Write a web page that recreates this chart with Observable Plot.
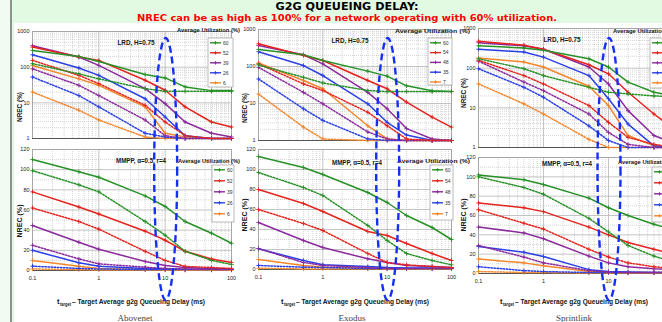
<!DOCTYPE html>
<html><head><meta charset="utf-8">
<script src="https://cdn.jsdelivr.net/npm/d3@7"></script>
<script src="https://cdn.jsdelivr.net/npm/@observablehq/plot@0.6"></script>
<style>
html,body{margin:0;padding:0;width:662px;height:322px;overflow:hidden;background:#e2fae2;}
#stage{position:relative;width:662px;height:322px;overflow:hidden;}
</style></head>
<body><div id="stage"></div>
<script>
// ---------------- DATA ----------------
const delayMs = [0.1, 0.5, 1, 5, 10, 20, 50, 100];
const xTickLabels = [0.1, 1, 10, 100];
const lrdTickLabels = [1, 10, 100, 1000];
const mmppTickLabels = [0, 20, 40, 60, 80, 100, 120];
const networks = ["Abovenet", "Exodus", "Sprintlink"];
const utilAbovenet = ["60", "52", "39", "26", "6"];
const utilExodus = ["60", "54", "48", "35", "7"];
const utilSprintlink = ["60", "54", "48", "35", "7"];
const lineColors = ["#279127", "#e5231d", "#8a2a9c", "#2a3fe6", "#f3862b"];

// rows: green, red, purple, blue, orange ; columns follow delayMs
const abovenetLrdSolid = [
  [295, 200, 145, 62, 50, 28, 22, 22],
  [366, 192, 155, 43, 22.5, 7.7, 2.9, 2.1],
  [400, 192, 112, 25, 9.5, 2.9, 1.4, 1.1],
  [222, 95, 59, 13, 4, 1.2, 1, 1],
  [112, 47, 31, 7.7, 1.4, 1.1, 1, 1]];
const abovenetLrdDotted = [
  [125, 65, 47, 25, 21, 21, 21, 21],
  [155, 59, 34.5, 8.5, 2.9, 1.2, 1, 1],
  [90, 31, 16, 3.3, 1.2, 1, 1, 1],
  [53, 16, 7.7, 1.4, 1.1, 1, 1, 1],
  [20, 6.2, 3.3, 1.1, 1, 1, 1, 1]];
const abovenetMmppSolid = [
  [110, 98, 92.5, 74, 63.5, 48.6, 37, 27],
  [78, 63, 56, 39, 30, 19, 11.5, 8],
  [44.6, 28, 21, 9, 5, 3, 2, 1.5],
  [20, 7.6, 4.3, 2, 1.5, 1, 1, 1],
  [10, 4.3, 2, 1, 0.7, 0.5, 0.5, 0.5]];
const abovenetMmppDotted = [
  [99, 85, 78, 48.6, 35, 19, 10, 6],
  [62, 48.6, 41, 19, 10, 4, 3, 2],
  [25, 11.5, 6.6, 3.3, 2, 1.5, 1, 1],
  [4.3, 2, 1.5, 1, 1, 1, 1, 1],
  [1.5, 0.8, 0.5, 0.5, 0.3, 0.3, 0.3, 0.3]];

const exodusLrdSolid = [
  [290, 207, 145, 75, 55, 30, 22, 21],
  [410, 198, 145, 42, 25, 10.9, 4.3, 2.3],
  [370, 207, 118, 20, 7.2, 2.1, 1.1, 1],
  [250, 106, 57, 9.8, 3.1, 1.4, 1, 1],
  [125, 42, 25, 2.5, 1.1, 1, 1, 1]];
const exodusLrdDotted = [
  [110, 51, 36, 22.5, 21, 21, 21, 21],
  [118, 34, 22.5, 5.8, 2.5, 1.1, 1, 1],
  [95, 20, 9.8, 1.7, 1.1, 1, 1, 1],
  [46, 7.2, 3.5, 1.1, 1, 1, 1, 1],
  [18, 2.3, 1.1, 1, 1, 1, 1, 1]];
const exodusMmppSolid = [
  [113, 102, 95, 77, 67, 54, 42, 30],
  [80, 66, 58, 38, 34, 26, 16, 9],
  [47, 29, 22, 10.7, 7, 4, 3, 2],
  [20.7, 9, 4.7, 3, 2, 1.5, 1.5, 1.5],
  [10, 4, 2.3, 1.5, 1, 1, 1, 1]];
const exodusMmppDotted = [
  [97, 82, 74, 44, 29, 16, 9, 4.7],
  [60, 46, 39, 16, 7, 4.7, 3, 2],
  [21, 7, 4, 2, 1, 1, 1, 1],
  [4, 2.3, 2, 1, 1, 1, 1, 1],
  [1.3, 0.5, 0.5, 0.5, 0.5, 0.5, 0.5, 0.5]];

const sprintlinkLrdSolid = [
  [365, 324, 283, 173, 107, 44.5, 24.7, 20],
  [479, 380, 300, 122, 72, 24.7, 7, 3],
  [440, 365, 300, 107, 40, 8.5, 2, 1.3],
  [300, 256, 190, 65, 17, 3.9, 1.1, 1],
  [180, 143, 107, 35, 11.4, 2, 1.1, 1]];
const sprintlinkLrdDotted = [
  [173, 97, 65, 33, 24.7, 22.5, 20, 19],
  [158, 65, 40, 11.4, 4.3, 1.8, 1.2, 1],
  [150, 44.5, 27, 7, 2.4, 1.2, 1, 1],
  [97, 33, 18.5, 3.5, 1.5, 1, 1, 1],
  [40, 12.6, 7, 1.6, 1, 1, 1, 1]];
const sprintlinkMmppSolid = [
  [102, 97, 92, 78, 68, 60, 51, 45],
  [73, 68, 64, 48, 40, 32, 25, 20],
  [48, 42, 36, 18, 11, 7, 5, 4],
  [28, 22, 17.5, 4, 2, 1.5, 1, 1],
  [15, 11, 8, 2, 1, 1, 1, 1]];
const sprintlinkMmppDotted = [
  [100, 89, 82, 57, 43, 29, 18, 12],
  [66, 52, 46, 25, 17, 11, 7, 5],
  [29, 17, 11, 3, 1.5, 1, 1, 1],
  [7, 3, 2, 1, 1, 1, 1, 1],
  [2, 1, 1, 0.5, 0.5, 0.5, 0.5, 0.5]];

const lrdTitle = "LRD, H=0.75";
const mmppTitle = "MMPP, \u03b1=0.5, r=4";
const legendTitle = "Average Utilization (%)";
const yLabel = "NREC (%)";
const xLabelRest = " \u2013 Target Average g2g Queueing Delay (ms)";

// ---------------- LAYOUT ----------------
const W = 662, H = 322;
const NARROW = "'Liberation Sans Narrow','Liberation Sans',Arial,sans-serif";
const columns = [
  {name: networks[0], util: utilAbovenet, lrd: [abovenetLrdSolid, abovenetLrdDotted], mmpp: [abovenetMmppSolid, abovenetMmppDotted],
   top: [32, 231, 31, 138], bot: [32, 231, 149, 270],
   yl: [20, 107, 221], lt: [136, 45], mt: [141, 163],
   legT: [177, 32, 63], legB: [178, 163, 62],
   boxT: [208, 38, 25, 49, 10], boxB: [212, 165, 22, 57, 11], xt: 57, cap: 135},
  {name: networks[1], util: utilExodus, lrd: [exodusLrdSolid, exodusLrdDotted], mmpp: [exodusMmppSolid, exodusMmppDotted],
   top: [258, 451, 29, 140], bot: [258, 451, 149, 269],
   yl: [245, 108, 215], lt: [350, 43], mt: [357, 165],
   legT: [395, 33, 75], legB: [397, 163, 73],
   boxT: [428, 38, 24, 47, 9.8], boxB: [430, 165, 23, 55, 11], xt: 281, cap: 352},
  {name: networks[2], util: utilSprintlink, lrd: [sprintlinkLrdSolid, sprintlinkLrdDotted], mmpp: [sprintlinkMmppSolid, sprintlinkMmppDotted],
   top: [478, 673, 28, 147], bot: [478, 673, 157, 273],
   yl: [464, 93, 215], lt: [562, 42], mt: [567, 166],
   legT: [613, 33, 63], legB: [618, 164, 63],
   boxT: [650, 38, 25, 50, 10], boxB: [652, 167, 25, 55, 11], xt: 500, cap: 574},
];

const stageEl = document.getElementById("stage");

// background
const bg = d3.create("svg").attr("width", W).attr("height", H)
  .style("position", "absolute").style("left", "0px").style("top", "0px");
bg.append("rect").attr("width", W).attr("height", H).attr("fill", "#e2fae2");
bg.append("rect").attr("width", 10).attr("height", H).attr("fill", "#f1fbf1");
bg.append("rect").attr("x", 10).attr("width", 2).attr("height", H).attr("fill", "#8c918c");
bg.append("rect").attr("x", 14).attr("y", 23).attr("width", W - 14).attr("height", H - 23).attr("fill", "#ffffff");
stageEl.appendChild(bg.node());

function toRows(sets) {
  const out = [];
  sets.forEach((set, s) => {
    for (let i = set.length - 1; i >= 0; i--) {
      set[i].forEach((v, j) => out.push({x: delayMs[j], y: v, key: s + "-" + i, dotted: s === 1, color: lineColors[i]}));
    }
  });
  return out;
}

function makePanel(kind, box, sets) {
  const [x0, x1, y0, y1] = box;
  const isLog = kind === "lrd";
  const ml = 24, mr = 6, mt = 4, mb = isLog ? 4 : 16;
  const width = x1 - x0 + ml + mr, height = y1 - y0 + mt + mb;
  const data = toRows(sets);
  const yAll = isLog ? d3.scaleLog().domain([1, 1000]).ticks() : d3.range(0, 121, 10);
  const yMajor = isLog ? lrdTickLabels : mmppTickLabels;
  const yMinor = yAll.filter(t => !yMajor.some(m => Math.abs(m - t) < 1e-9));
  const xAll = d3.scaleLog().domain([0.1, 100]).ticks();
  const xMinor = xAll.filter(t => !xTickLabels.some(m => Math.abs(m - t) < 1e-9));
  const fmt = d3.format("~g");
  const plot = Plot.plot({
    width, height, marginLeft: ml, marginRight: mr, marginTop: mt, marginBottom: mb,
    style: {background: "transparent", overflow: "visible", fontFamily: "'Liberation Sans',Arial,sans-serif", fontSize: "5.5px", color: "#222"},
    x: {type: "log", domain: [0.1, 100], axis: null},
    y: isLog ? {type: "log", domain: [1, 1000], axis: null} : {type: "linear", domain: [0, 120], axis: null},
    color: {type: "identity"},
    marks: [
      Plot.ruleX(xMinor, {stroke: "#b8b8b8", strokeWidth: 0.6, strokeDasharray: "1,1"}),
      Plot.ruleY(yMinor, {stroke: "#b8b8b8", strokeWidth: 0.6, strokeDasharray: "1,1"}),
      Plot.ruleX(xTickLabels, {stroke: "#acacac", strokeWidth: 0.7}),
      Plot.ruleY(yMajor, {stroke: "#acacac", strokeWidth: 0.7}),
      Plot.frame({stroke: "#a0a0a0", strokeWidth: 0.8}),
      Plot.ruleY([isLog ? 1 : 0], {stroke: "#555", strokeWidth: 1}),
      Plot.axisY(yMajor, {tickSize: 0, tickPadding: 3, tickFormat: fmt, label: null, fontSize: 5.5}),
      isLog ? null : Plot.axisX(xTickLabels, {tickSize: 0, tickPadding: 6, tickFormat: fmt, label: null, fontSize: 5.5}),
      Plot.line(data.filter(d => !d.dotted), {x: "x", y: "y", z: "key", stroke: "color", strokeWidth: 1.5}),
      Plot.line(data.filter(d => d.dotted), {x: "x", y: "y", z: "key", stroke: "color", strokeWidth: 1.5, strokeDasharray: "1.5,1.6"}),
      Plot.dot(data, {x: "x", y: "y", stroke: "color", symbol: "plus", r: 1.5, strokeWidth: 0.9})
    ]
  });
  plot.style.position = "absolute";
  plot.style.left = (x0 - ml) + "px";
  plot.style.top = (y0 - mt) + "px";
  stageEl.appendChild(plot);
  return {plot, left: x0 - ml, top: y0 - mt};
}

const panels = columns.map(c => ({
  top: makePanel("lrd", c.top, c.lrd),
  bot: makePanel("mmpp", c.bot, c.mmpp)
}));

// ---------------- OVERLAY ----------------
const ov = d3.create("svg").attr("width", W).attr("height", H)
  .style("position", "absolute").style("left", "0px").style("top", "0px");
function txt(x, y, s, o = {}) {
  const t = ov.append("text").attr("x", x).attr("y", y).text(s)
    .attr("font-family", o.family || NARROW).attr("font-size", o.size || 6)
    .attr("font-weight", o.weight || "bold").attr("fill", o.fill || "#151515")
    .attr("text-anchor", o.anchor || "middle");
  if (o.len) t.attr("textLength", o.len).attr("lengthAdjust", "spacingAndGlyphs");
  if (o.rotate) t.attr("transform", `rotate(${o.rotate},${x},${y})`);
  return t;
}

txt(347, 9.5, "G2G QUEUEING DELAY:", {family: "'DejaVu Sans',Verdana,sans-serif", size: 10, len: 143, fill: "#000"});
txt(347, 20.5, "NREC can be as high as 100% for a network operating with 60% utilization.", {family: "'DejaVu Sans',Verdana,sans-serif", size: 9, len: 420, fill: "#ff0000"});

function legend(box, util) {
  const [x0, y0, w, h, gap] = box;
  ov.append("rect").attr("x", x0).attr("y", y0).attr("width", w).attr("height", h)
    .attr("fill", "#fff").attr("stroke", "#9a9a9a").attr("stroke-width", 0.7);
  util.forEach((u, i) => {
    const y = y0 + 4.8 + i * gap;
    ov.append("line").attr("x1", x0 + 2).attr("x2", x0 + 13).attr("y1", y).attr("y2", y)
      .attr("stroke", lineColors[i]).attr("stroke-width", 1.4);
    ov.append("path").attr("d", `M${x0 + 5.8},${y}h3.4M${x0 + 7.5},${y - 1.7}v3.4`)
      .attr("stroke", lineColors[i]).attr("stroke-width", 0.9);
    txt(x0 + 15, y + 1.8, u, {size: 5, anchor: "start", weight: "normal", fill: "#333"});
  });
}

columns.forEach((c, k) => {
  const p = panels[k];
  txt(c.yl[0] + 2.3, c.yl[1], yLabel, {size: 6.5, len: 30, rotate: -90});
  txt(c.yl[0] + 2.3, c.yl[2], yLabel, {size: 6.5, len: 33, rotate: -90});
  txt(c.lt[0], c.lt[1], lrdTitle, {size: 7, len: 37});
  txt(c.mt[0], c.mt[1], mmppTitle, {size: 7, len: 50});
  txt(c.legT[0], c.legT[1], legendTitle, {size: 5.5, anchor: "start", len: c.legT[2]});
  txt(c.legB[0], c.legB[1], legendTitle, {size: 5.5, anchor: "start", len: c.legB[2]});
  legend(c.boxT, c.util);
  legend(c.boxB, c.util);
  txt(c.xt, 304, "t", {size: 7.5, anchor: "start"});
  txt(c.xt + 3, 305.5, "target", {size: 4.5, anchor: "start", len: 11});
  txt(c.xt + 15, 304, xLabelRest, {size: 7.5, anchor: "start", len: 133});
  txt(c.cap, 321, c.name, {family: "'Liberation Serif','Times New Roman',serif", size: 9, weight: "normal", fill: "#444"});
  const cx = p.bot.left + p.bot.plot.scale("x").apply(10) + 1;
  ov.append("ellipse").attr("cx", cx).attr("cy", 169).attr("rx", 11.5).attr("ry", 131)
    .attr("fill", "none").attr("stroke", "#1530f5").attr("stroke-width", 2.4).attr("stroke-dasharray", "7,4");
});

stageEl.appendChild(ov.node());
</script>
</body></html>
